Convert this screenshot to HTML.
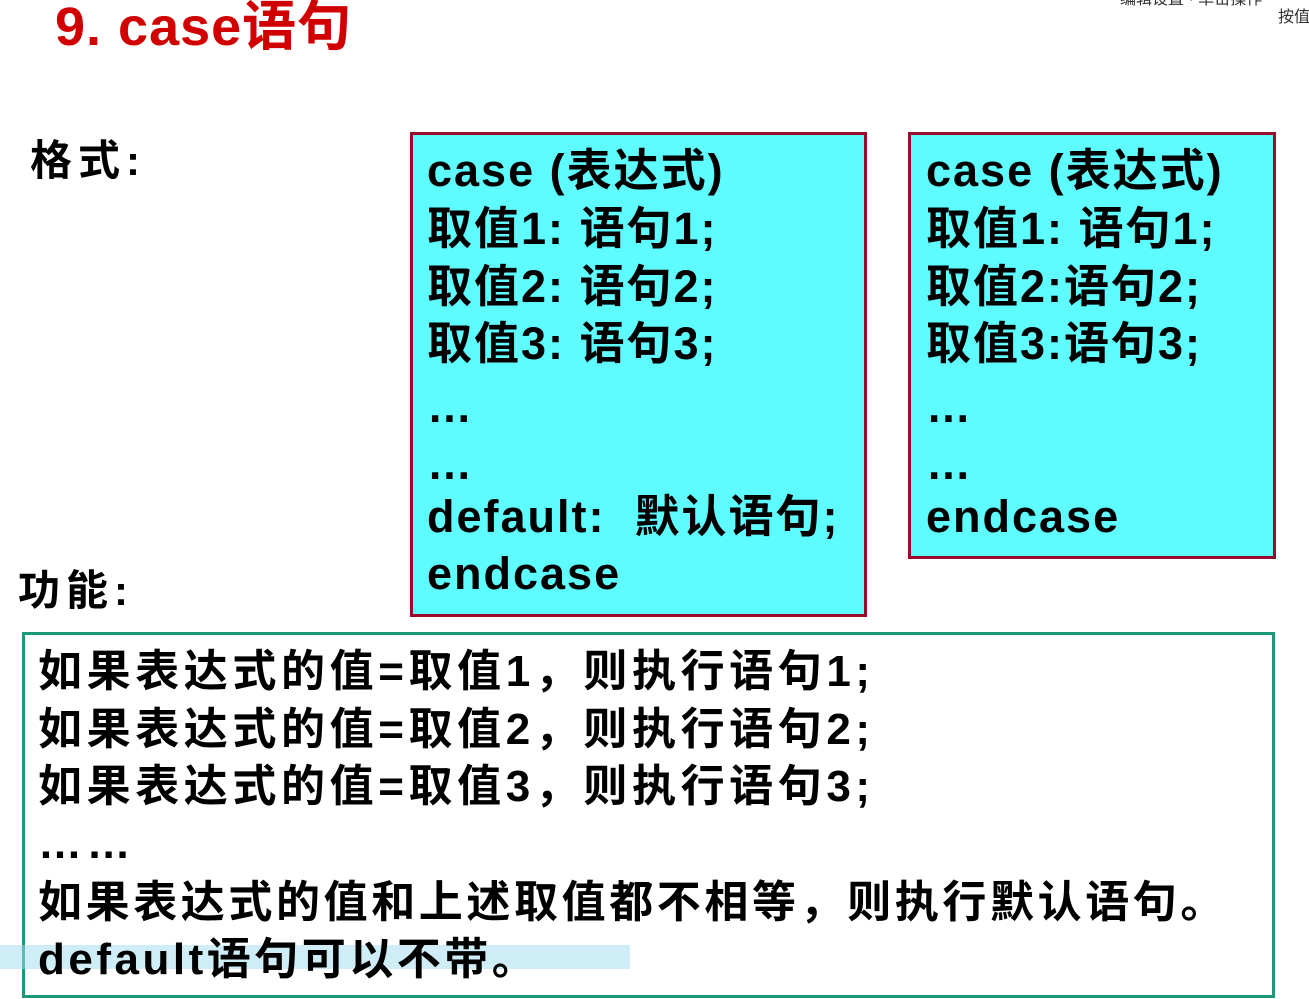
<!DOCTYPE html>
<html><head><meta charset="utf-8"><style>
body{margin:0;width:1309px;height:999px;background:#fff;overflow:hidden;position:relative;font-family:"Liberation Sans","Noto Sans CJK SC",sans-serif;font-weight:bold;color:#000}
.t{position:absolute;white-space:nowrap;line-height:1}
.box{position:absolute;background:#5ffcff;border:3px solid #980b2b;box-sizing:border-box}
.bl{font-size:45px;letter-spacing:2px}
.gl{font-size:44px;letter-spacing:4.6px}
</style></head><body>
<div class="t" style="left:55px;top:0px;font-size:54px;color:#d00000;letter-spacing:1px">9. case语句</div>
<div class="t" style="left:1120px;top:-8px;font-size:16px;color:#333;font-weight:normal">编辑设置 · 单击操作</div>
<div class="t" style="left:1278px;top:10px;font-size:16px;color:#333;font-weight:normal">按值</div>
<div class="t" style="left:30px;top:140px;font-size:42px;letter-spacing:6px">格式:</div>
<div class="t" style="left:18px;top:570px;font-size:42px;letter-spacing:6px">功能:</div>

<div class="box" style="left:410px;top:132px;width:457px;height:485px"></div>
<div class="box" style="left:908px;top:132px;width:368px;height:427px"></div>

<div class="t bl" style="left:427px;top:148px">case (表达式)</div>
<div class="t bl" style="left:427px;top:206px">取值1: 语句1;</div>
<div class="t bl" style="left:427px;top:264px">取值2: 语句2;</div>
<div class="t bl" style="left:427px;top:321px">取值3: 语句3;</div>
<div class="t bl" style="left:427px;top:384px">…</div>
<div class="t bl" style="left:427px;top:441px">…</div>
<div class="t bl" style="left:427px;top:494px">default:&nbsp;&nbsp;默认语句;</div>
<div class="t bl" style="left:427px;top:551px">endcase</div>

<div class="t bl" style="left:926px;top:148px">case (表达式)</div>
<div class="t bl" style="left:926px;top:206px">取值1: 语句1;</div>
<div class="t bl" style="left:926px;top:264px">取值2:语句2;</div>
<div class="t bl" style="left:926px;top:321px">取值3:语句3;</div>
<div class="t bl" style="left:926px;top:384px">…</div>
<div class="t bl" style="left:926px;top:441px">…</div>
<div class="t bl" style="left:926px;top:494px">endcase</div>

<div style="position:absolute;left:22px;top:632px;width:1253px;height:366px;border:3px solid #1a9a7a;box-sizing:border-box"></div>
<div class="t gl" style="left:38px;top:650px">如果表达式的值=取值1，则执行语句1;</div>
<div class="t gl" style="left:38px;top:708px">如果表达式的值=取值2，则执行语句2;</div>
<div class="t gl" style="left:38px;top:765px">如果表达式的值=取值3，则执行语句3;</div>
<div class="t gl" style="left:38px;top:822px">……</div>
<div class="t gl" style="left:38px;top:881px;letter-spacing:3.6px">如果表达式的值和上述取值都不相等，则执行默认语句。</div>
<div style="position:absolute;left:0;top:945px;width:630px;height:24px;background:rgba(160,220,240,0.5)"></div>
<div class="t gl" style="left:38px;top:938px;letter-spacing:3.5px">default语句可以不带。</div>
</body></html>
